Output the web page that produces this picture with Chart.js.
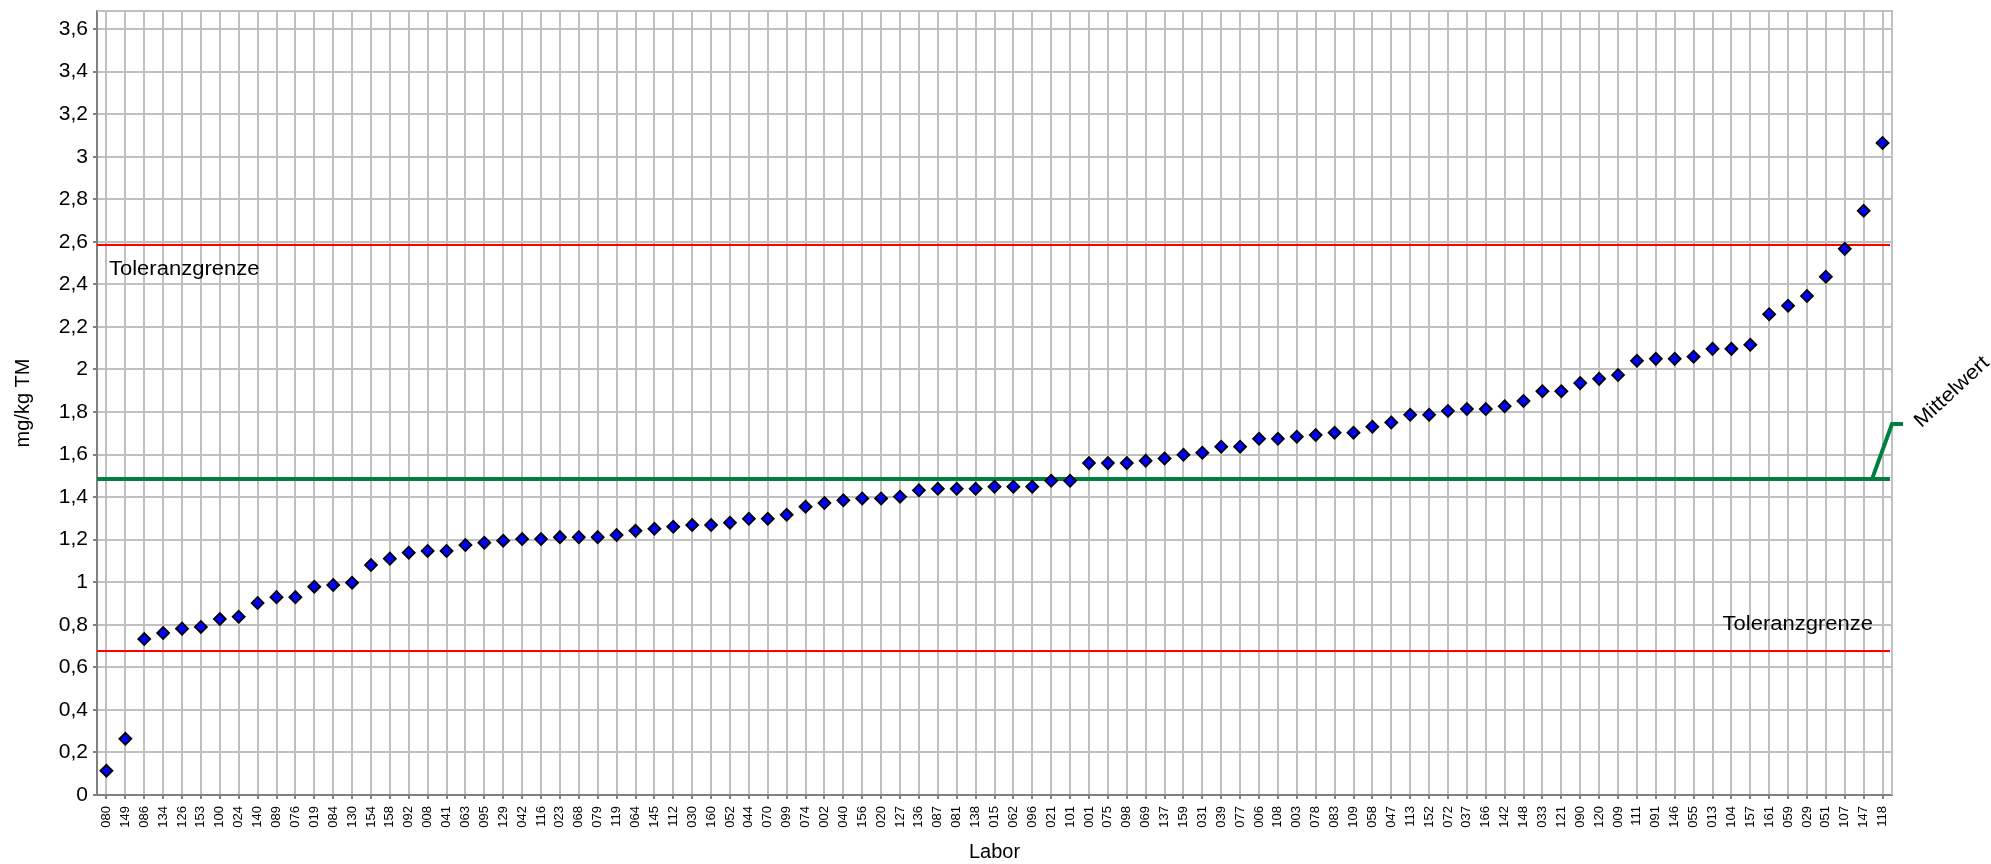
<!DOCTYPE html>
<html>
<head>
<meta charset="utf-8">
<script src="https://cdn.jsdelivr.net/npm/chart.js@4"></script>
<style>
  body { margin: 0; background: #fff; }
  canvas { display: block; }
</style>
</head>
<body>
<canvas id="myChart" width="1991" height="864"></canvas>
<script>
// Labor codes (sorted by result)
var labs = ['080','149','086','134','126','153','100','024','140','089','076','019','084','130','154','158','092','008','041','063',
            '095','129','042','116','023','068','079','119','064','145','112','030','160','052','044','070','099','074','002','040',
            '156','020','127','136','087','081','138','015','062','096','021','101','001','075','098','069','137','159','031','039',
            '077','006','108','003','078','083','109','058','047','113','152','072','037','166','142','148','033','121','090','120',
            '009','111','091','146','055','013','104','157','161','059','029','051','107','147','118'];

// results in mg/kg TM
var results = [0.114,0.264,0.733,0.761,0.782,0.790,0.827,0.838,0.902,0.930,0.930,0.979,0.987,0.998,1.081,1.111,1.139,1.147,1.147,1.175,
               1.186,1.195,1.203,1.203,1.212,1.212,1.212,1.222,1.242,1.251,1.261,1.269,1.269,1.280,1.298,1.298,1.317,1.355,1.372,1.385,
               1.394,1.394,1.402,1.432,1.439,1.439,1.439,1.449,1.449,1.449,1.477,1.477,1.560,1.560,1.560,1.571,1.582,1.599,1.609,1.637,
               1.637,1.674,1.674,1.684,1.692,1.703,1.703,1.731,1.751,1.787,1.787,1.805,1.814,1.814,1.827,1.852,1.898,1.898,1.936,1.956,
               1.974,2.041,2.050,2.050,2.060,2.097,2.097,2.116,2.260,2.300,2.345,2.436,2.567,2.746,3.065];

var mittelwert = 1.485;
var tolOben = 2.585;
var tolUnten = 0.677;

var yMin = 0;
var yMax = 3.685;
var yStep = 0.2;

var FONT = '"Liberation Sans", Arial, sans-serif';

// text a bit wider than normal, like the original export
function wideText(ctx, txt, x, y, align){
    var w = ctx.measureText(txt).width * 1.1;
    var sx = x;
    if (align === 'right') sx = x - w;
    if (align === 'center') sx = x - w / 2;
    ctx.save();
    ctx.translate(sx, y);
    ctx.scale(1.1, 1);
    ctx.textAlign = 'left';
    ctx.fillText(txt, 0, 0);
    ctx.restore();
}

// reference lines + labels
var refLines = {
    id: 'refLines',
    beforeDatasetsDraw: function(chart){
        var ctx = chart.ctx;
        var a = chart.chartArea;
        var y = chart.scales.y;
        ctx.save();
        // top/right frame
        ctx.strokeStyle = '#c0c0c0';
        ctx.lineWidth = 2;
        ctx.beginPath();
        ctx.moveTo(a.left, a.top);
        ctx.lineTo(a.right, a.top);
        ctx.lineTo(a.right, a.bottom);
        ctx.stroke();

        ctx.strokeStyle = '#ff0000';
        ctx.lineWidth = 2;
        [tolOben, tolUnten].forEach(function(v){
            var py = y.getPixelForValue(v);
            ctx.beginPath();
            ctx.moveTo(a.left, py);
            ctx.lineTo(a.right - 2, py);
            ctx.stroke();
        });

        var my = y.getPixelForValue(mittelwert);
        ctx.strokeStyle = '#008040';
        ctx.lineWidth = 4;
        ctx.beginPath();
        ctx.moveTo(a.left, my);
        ctx.lineTo(a.right - 2, my);
        ctx.stroke();
        ctx.beginPath();
        ctx.moveTo(a.right - 20, my);
        ctx.lineTo(a.right, my - 55);
        ctx.lineTo(a.right + 11, my - 55);
        ctx.stroke();

        ctx.fillStyle = '#000';
        ctx.font = '20px ' + FONT;
        ctx.textBaseline = 'middle';
        wideText(ctx, 'Toleranzgrenze', a.left + 12, y.getPixelForValue(tolOben) + 24, 'left');
        wideText(ctx, 'Toleranzgrenze', a.right - 19, y.getPixelForValue(tolUnten) - 26, 'right');

        ctx.translate(a.right + 60, my - 87);
        ctx.rotate(-43 * Math.PI / 180);
        wideText(ctx, 'Mittelwert', 0, 0, 'center');
        ctx.restore();
    }
};

var ctx = document.getElementById('myChart');
var myChart = new Chart(ctx, {
    type: 'line',
    data: {
        labels: labs,
        datasets: [{
            label: 'Labor',
            data: results,
            showLine: false,
            pointStyle: 'rectRot',
            pointRadius: 6,
            pointBorderWidth: 1.8,
            pointBackgroundColor: '#0000ff',
            pointBorderColor: '#000000'
        }]
    },
    options: {
        responsive: false,
        animation: false,
        layout: { padding: { top: 11, right: 99, left: 0, bottom: 0 } },
        plugins: {
            legend: { display: false },
            tooltip: { enabled: false }
        },
        scales: {
            x: {
                offset: true,
                grid: { offset: false, color: '#c0c0c0', lineWidth: 2, tickLength: 4, tickColor: '#808080' },
                border: { color: '#808080', width: 2 },
                ticks: {
                    autoSkip: false, minRotation: 90, maxRotation: 90, padding: 7,
                    color: '#000', font: { family: FONT, size: 13 }
                },
                title: { display: true, text: 'Labor', color: '#000', font: { family: FONT, size: 20 }, padding: { top: 0, bottom: 0 } },
                afterFit: function(scale){
                    scale.height = 69;
                    scale.paddingLeft = 0;
                    scale.paddingRight = 0;
                }
            },
            y: {
                min: yMin,
                max: yMax,
                grid: { color: '#c0c0c0', lineWidth: 2, tickLength: 4, tickColor: '#808080' },
                border: { color: '#808080', width: 2 },
                ticks: {
                    stepSize: yStep, includeBounds: false, padding: 5,
                    color: '#000', font: { family: FONT, size: 21 },
                    callback: function(v){ return String(+v.toFixed(1)).replace('.', ','); }
                },
                title: { display: true, text: 'mg/kg TM', color: '#000', font: { family: FONT, size: 20 }, padding: { top: 11, bottom: 0 } },
                afterFit: function(scale){
                    scale.width = 97;
                    scale.paddingTop = 0;
                    scale.paddingBottom = 0;
                }
            }
        }
    },
    plugins: [refLines]
});
</script>
</body>
</html>
